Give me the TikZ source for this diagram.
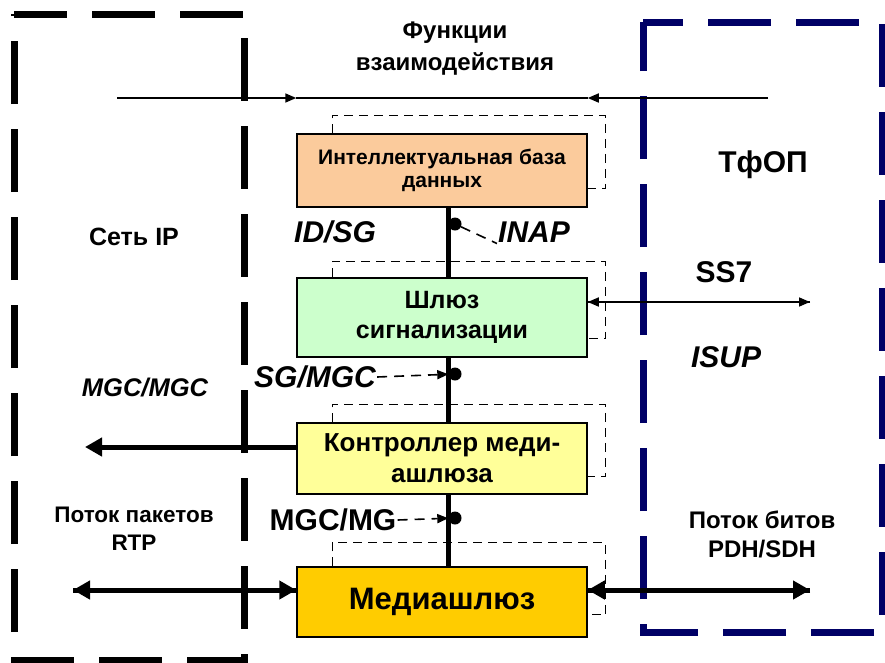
\documentclass[tikz,border=0pt]{standalone}
\usepackage{fontspec}
\setmainfont{Liberation Sans}
\usepackage{tikz}
\usetikzlibrary{arrows.meta, positioning, calc}
\definecolor{pstnblue}{HTML}{000066}
\definecolor{idbfill}{HTML}{FBCB9C}
\definecolor{sgfill}{HTML}{CCFFCC}
\definecolor{mgcfill}{HTML}{FFFF99}
\definecolor{mgfill}{HTML}{FFCC00}
\newcommand{\fsz}[2]{\fontsize{#1}{#2}\selectfont}

\begin{document}
\begin{tikzpicture}[
  x=1pt, y=-1pt,
  block/.style={draw, line width=1.5pt, rectangle, minimum width=290pt,
                align=center, inner sep=0pt, font=\bfseries\fsz{21}{23}},
  echo/.style={dashed, line width=1.2pt, dash pattern=on 9pt off 6pt},
  netborder/.style={line width=7pt, dash pattern=on 63pt off 25pt},
  bus/.style={line width=5pt},
  dot/.style={circle, fill=black, inner sep=0pt, minimum size=13pt},
  link/.style={line width=1.6pt, dash pattern=on 10pt off 7pt},
  fline/.style={line width=1.6pt},
  fhead/.style={-{Triangle[length=11pt,width=9pt]}},
  bigarrow/.style={line width=5pt},
  bighead/.style={-{Triangle[length=17pt,width=18pt]}},
  label/.style={inner sep=1pt, font=\bfseries\itshape\fsz{30}{34}},
  note/.style={align=center, inner sep=0pt, font=\bfseries\fsz{24}{29}},
]
\useasboundingbox (0,0) rectangle (885,662);

%% Networks
\draw[netborder] (14,14) [dash phase=10pt] -- (244,14) -- (244,660) -- (14,660) -- cycle;
\draw[netborder, pstnblue] (643,22) [dash phase=23pt] -- (882,22) -- (882,632) -- (643,632) -- cycle;

\node[note, font=\bfseries\fsz{25}{28}] (ipnet) at (134,237) {Сеть IP};
\node[note, font=\bfseries\fsz{30}{34}] (tfop) at (763,165) {ТфОП};

%% Functional blocks
\node[block, fill=idbfill, minimum height=73pt] (idb) at (442,170.5)
  {Интеллектуальная база\\данных};
\node[block, fill=sgfill, minimum height=79pt, font=\bfseries\fsz{25}{30}] (sg) at (442,317.5)
  {Шлюз\\сигнализации};
\node[block, fill=mgcfill, minimum height=71pt, font=\bfseries\fsz{26}{31}] (mgc) at (442,458.5)
  {Контроллер меди-\\ашлюза};
\node[block, fill=mgfill, minimum height=70pt, font=\bfseries\fsz{31}{34}] (mg) at (442,602)
  {Медиашлюз};

%% Dashed outlines behind the blocks
\foreach \b/\dt/\db in {idb/18/19, sg/16/19, mgc/18/18, mg/24/23}
  \draw[echo] ([xshift=36pt]\b.north west) -- ([shift={(36pt,\dt pt)}]\b.north west)
    -| ([shift={(18pt,\db pt)}]\b.south east) -- ([yshift=\db pt]\b.south east);

%% Vertical bus
\draw[bus] ([xshift=6pt]idb.south) -- ([xshift=6pt]sg.north);
\draw[bus] ([xshift=6pt]sg.south) -- ([xshift=6pt]mgc.north);
\draw[bus] ([xshift=6pt]mgc.south) -- ([xshift=6pt]mg.north);

\node[dot] (d1) at (455,224) {};
\node[dot] (d2) at (455,374) {};
\node[dot] (d3) at (455,518) {};

%% Interfaces
\node[label] (idsg) at (335,232) {ID/SG};
\node[label] (inap) at (534,232) {INAP};
\node[label] (sgmgc) at (315,377) {SG/MGC};
\node[label, font=\bfseries\fsz{30}{34}] (mgcmg) at (333,520) {MGC/MG};
\node[label, font=\bfseries\itshape\fsz{25.5}{28}] (mgcmgc) at (145,388) {MGC/MGC};
\node[note, font=\bfseries\fsz{30}{34}] (ss7) at (724,272) {SS7};
\node[label] (isup) at (726,357) {ISUP};

\draw[link] (d1) -- (inap.south west);
\draw[link, fhead] (sgmgc.east) -- (d2);
\draw[link, fhead] (mgcmg.east) -- (d3);

%% Interworking functions
\node[note, font=\bfseries\fsz{24}{32}] (func) at (455,49) {Функции\\взаимодействия};
\coordinate (fL) at (117,98);
\coordinate (fR) at (768,98);
\draw[fline, fhead] (fL) -- (fL -| idb.west);
\draw[fline] (fL -| idb.west) -- (fR -| idb.east);
\draw[fline, fhead] (fR) -- (fR -| idb.east);

%% Signalling to PSTN
\coordinate (ss7end) at (810,302);
\draw[fline, fhead] (ss7end -| sg.east) -- (ss7end);
\draw[fline, fhead] (ss7end) -- (ss7end -| sg.east);

%% Media controller to IP
\coordinate (mgcend) at (85,447);
\draw[bigarrow, bighead] (mgcend -| mgc.west) -- (mgcend);

%% Media streams
\node[note, font=\bfseries\fsz{22.5}{28}] (rtp) at (134,529) {Поток пакетов\\RTP};
\node[note] (pdh) at (762,534) {Поток битов\\PDH/SDH};
\coordinate (rtpend) at (73,590);
\coordinate (pdhend) at (810,590);
\draw[bigarrow, bighead] (rtpend -| mg.west) -- (rtpend);
\draw[bigarrow, bighead] (rtpend) -- (rtpend -| mg.west);
\draw[bigarrow, bighead] (pdhend -| mg.east) -- (pdhend);
\draw[bigarrow, bighead] (pdhend) -- (pdhend -| mg.east);

\end{tikzpicture}
\end{document}
